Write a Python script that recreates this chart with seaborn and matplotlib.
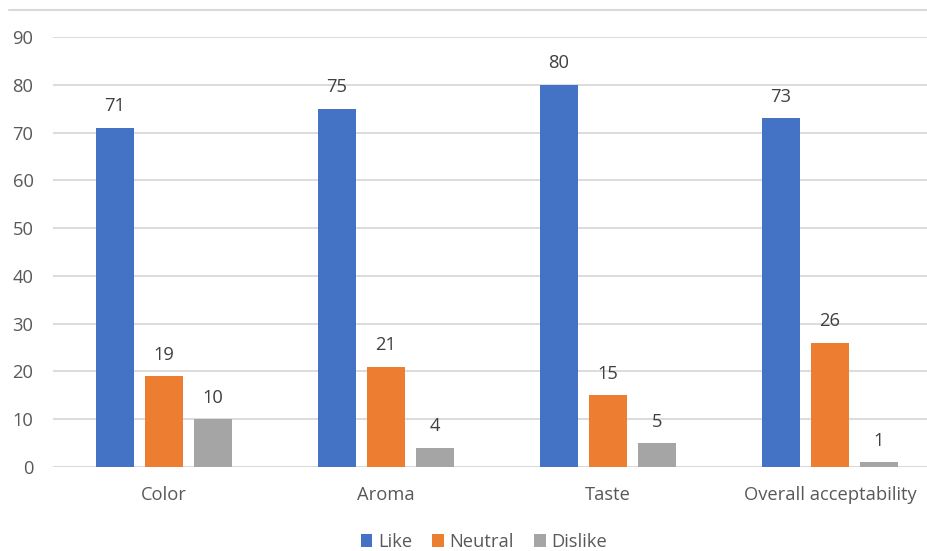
import matplotlib
matplotlib.use("Agg")
import matplotlib.pyplot as plt
from matplotlib.lines import Line2D
from matplotlib.patches import Patch
import seaborn as sns
import pandas as pd

categories = ["Color", "Aroma", "Taste", "Overall acceptability"]
series = ["Like", "Neutral", "Dislike"]
like = [71, 75, 80, 73]
neutral = [19, 21, 15, 26]
dislike = [10, 4, 5, 1]
yticks = [0, 10, 20, 30, 40, 50, 60, 70, 80, 90]
colors = ["#4472C4", "#ED7D31", "#A5A5A5"]

rows = []
for s, vals in zip(series, [like, neutral, dislike]):
    for c, v in zip(categories, vals):
        rows.append({"category": c, "series": s, "value": v})
df = pd.DataFrame(rows)

sns.set_theme(style="white")
plt.rcParams["font.family"] = ["Open Sans", "DejaVu Sans"]

W, H = 928, 551
fig = plt.figure(figsize=(W / 100, H / 100), dpi=100)
ax = fig.add_axes([53 / W, (H - 467) / H, 888 / W, (467 - 37) / H])

sns.barplot(data=df, x="category", y="value", hue="series", order=categories,
            hue_order=series, palette=colors, width=0.662, gap=0.22,
            saturation=1, ax=ax, legend=False, zorder=3, linewidth=0)

FS = 13.2
ax.set_ylim(0, 90)
ax.set_xlim(-0.5, len(categories) - 0.5)
ax.set_yticks(yticks)
ax.grid(axis="y", color="#D9D9D9", linewidth=1.3, zorder=0)
for sp in ax.spines.values():
    sp.set_visible(False)
ax.axhline(0, color="#D9D9D9", linewidth=1.3, zorder=1)
ax.set_xlabel("")
ax.set_ylabel("")
ax.tick_params(axis="both", length=0, labelsize=FS, labelcolor="#595959")
ax.tick_params(axis="y", pad=14)
ax.tick_params(axis="x", pad=14)

for cont in ax.containers:
    ax.bar_label(cont, fmt="%d", padding=9, fontsize=FS, color="#404040")

handles = [Patch(facecolor=c, edgecolor="none") for c in colors]
fig.legend(handles, series, loc="center", bbox_to_anchor=(484 / W, 1 - 542 / H),
           ncol=3, frameon=False, fontsize=FS, labelcolor="#595959",
           handlelength=0.65, handleheight=0.65, handletextpad=0.3, columnspacing=1.1)

fig.add_artist(Line2D([9 / W, 1.0], [1 - 10 / H, 1 - 10 / H], transform=fig.transFigure,
                      color="#D9D9D9", linewidth=1.5))

fig.savefig("out.png", dpi=100, facecolor="white")
